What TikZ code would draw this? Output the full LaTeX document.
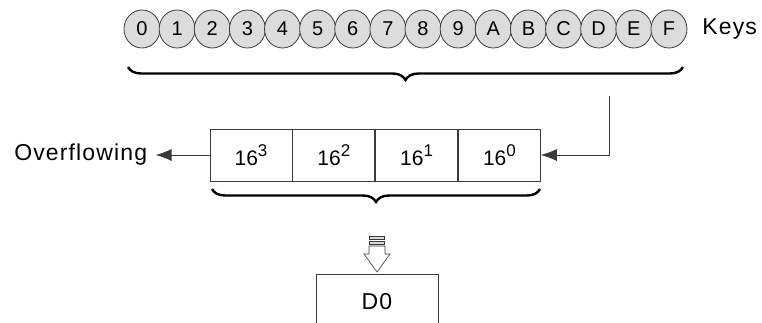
\documentclass[tikz,border=0pt]{standalone}
\usepackage{fontspec}
\setmainfont{Liberation Sans}
\newfontfamily\spaced[LetterSpace=5]{Liberation Sans}
\usetikzlibrary{positioning,arrows.meta,decorations.pathreplacing,shapes.geometric}
\definecolor{keyfill}{HTML}{DCDCDC}
\definecolor{linegray}{HTML}{3A3A3A}
\newcommand{\pw}[1]{16\raisebox{9pt}{\fontsize{17}{17}\selectfont #1}}
\begin{document}
\begin{tikzpicture}[x=1pt, y=-1pt, line width=0.8pt, key/.style={ellipse, draw=linegray, fill=keyfill, minimum width=36pt, minimum height=38pt, inner sep=0pt, font=\fontsize{20}{20}\selectfont}, cell/.style={rectangle, draw=linegray, minimum width=82pt, minimum height=52pt, inner sep=0pt, font=\fontsize{21}{21}\selectfont}, txt/.style={font=\spaced\fontsize{23}{23}\selectfont, inner sep=2pt}, curly/.style={decorate, decoration={brace, mirror, amplitude=13pt}, line width=2.4pt}, tip/.style={-{Latex[length=16pt, width=12pt]}, draw=linegray}]
	\useasboundingbox (0,0) rectangle (762,323);
	% keys
	\foreach \k [count=\i from 0] in {0,1,2,3,4,5,6,7,8,9,A,B,C,D,E,F}
		\node[key] (k\k) at (142+35.13*\i, 29) {\k};
	\node[txt, anchor=west] (keys) at (700, 29) {Keys};
	\draw[curly] (128,67) -- (683,67);
	% register
	\node[cell] (c3) at (251,155) {\pw{3}};
	\node[cell, right=0pt of c3] (c2) {\pw{2}};
	\node[cell, right=0pt of c2] (c1) {\pw{1}};
	\node[cell, right=0pt of c1] (c0) {\pw{0}};
	\node[txt, inner xsep=8pt, left=54pt of c3] (over) {Overflowing};
	\draw[tip] (c3.west) -- (over.east);
	\coordinate (feed) at (609,96);
	\draw[tip] (feed) |- (c0.east);
	\draw[curly] (212,189) -- (540,189);
	% transfer to D0
	\draw[draw=linegray, fill=keyfill, line width=0.6pt] (369,236) rectangle (384,239.5) (369,241) rectangle (384,244.5);
	\draw[draw=linegray, line width=0.6pt] (369,246) -- (369,254) -- (364,254) -- (377,272) -- (390,254) -- (385,254) -- (385,246) -- cycle;
	\draw[draw=linegray] (316,330) |- (438,274) -- (438,330);
	\node[txt] (d0) at (377,302) {D0};
\end{tikzpicture}
\end{document}
